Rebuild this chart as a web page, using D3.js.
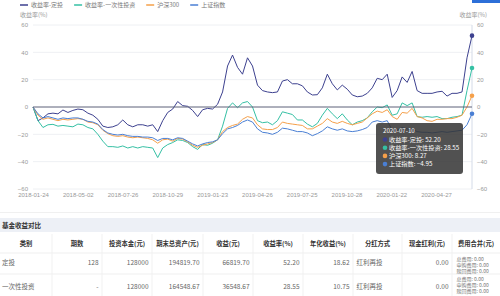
<!DOCTYPE html>
<html>
<head>
<meta charset="utf-8">
<script src="https://cdn.jsdelivr.net/npm/d3@7"></script>
<style>
  body { margin: 0; background: #fff; }
  svg { display: block; font-family: "Noto Sans CJK SC", "Noto Sans", sans-serif; }
</style>
</head>
<body>
<svg id="chart" width="500" height="296"></svg>
<script>
// x轴标签 (交易日序号)
const tickLabels = ["2018-01-24", "2018-05-02", "2018-07-26", "2018-10-29", "2019-01-23",
                    "2019-04-26", "2019-07-25", "2019-10-28", "2020-01-22", "2020-04-27"];
const tickDays = [0, 61, 122, 183, 244, 305, 366, 427, 488, 549];
const lastDay = 598;
const lastDate = "2020-07-10";

const seriesNames = ["收益率-定投", "收益率-一次性投资", "沪深300", "上证指数"];
const seriesColors = ["#3d418f", "#35c0a4", "#f5a04a", "#4a7fd4"];

// 收益率-定投
const dingtou = [0, -10, -8, -5, -4.5, -5, -2.2, -4, -2.5, -1.5, -2, -4.5, -6, -9, -14, -15, -14.5, -13, -9.5, -13,
  -14.5, -13, -13, -14, -13, -18, -10, -4, -1.5, 4, 1, 0.5, -2.5, -7, -2, -1, -1.5, 2, 11, 30,
  38, 29, 24, 36, 30, 16, 12, 11, 10.5, 11, 19, 20, 17, 17, 15.5, 11, 8.8, 9, 14, 24,
  17, 12.5, 16, 13, 8.8, 7.5, 8, 10, 14, 21, 20, 24, 7, 12, 22, 18, 26, 12, 10, 10,
  10, 11, 11.5, 8, 10, 10, 11, 36, 52.20];

// 收益率-一次性投资
const yicixing = [0, -10, -15, -13, -12.7, -14, -13.5, -14, -14.5, -12.5, -13, -15, -16, -20, -25, -29, -29, -29.5, -28.5, -30,
  -29, -30, -29, -29.5, -30, -37, -30, -27.5, -26, -24, -24.5, -26, -29, -31, -27.5, -28, -26.5, -24, -14, -1,
  3, -0.5, 3, 4, 0, -10, -11.5, -11, -13, -10, -3.5, -4.5, -5.5, -9.5, -9.5, -12.5, -14.5, -12, -6, -1,
  -5, -8.5, -5, -9.5, -13, -11, -10, -8, -3.5, 0, -0.5, 1.5, -6, -5, 3, 1, 3, -7, -7.5, -7,
  -7.5, -7, -8.5, -8.5, -7.5, -7, -6, 12, 28.55];

// 沪深300
const hs300 = [0, -6, -9, -8, -9, -10, -9, -9.5, -9, -8.5, -9, -11, -11.5, -13, -17, -19.5, -21, -21.5, -21, -22,
  -22.5, -22, -22.5, -23, -24, -26.5, -24, -23.5, -25, -23, -23.5, -25.5, -28, -29.5, -28, -27, -26, -24, -18, -15,
  -13.5, -12.5, -9, -7, -8, -13, -16, -16.5, -16.5, -15, -11, -12, -12.5, -13, -13.5, -16, -16, -14, -12, -8.5,
  -11, -12, -10.5, -12, -13, -12, -11, -8, -5, -3, -4, -2, -7, -9, -4, -4.5, -1, -7, -8, -10,
  -10.5, -9, -9, -8.5, -8.5, -7.5, -6, 0, 8.27];

// 上证指数
const shangzheng = [0, -5, -8, -7, -8, -9, -8, -8.5, -8, -8, -9, -10.5, -11, -12.5, -16.5, -19, -20, -20.5, -20, -21,
  -21.5, -21.5, -22, -22, -22.5, -24.5, -23, -23, -24, -22.5, -23, -25, -27, -28.5, -27, -26, -25.5, -24, -19.5, -16,
  -15, -13.5, -11, -9.5, -11, -16, -18.5, -19, -20, -18.5, -15.5, -16, -17, -18, -18, -19, -21, -19.5, -17.5, -14.5,
  -16, -17, -16, -17.5, -18, -17.5, -16.5, -15, -11, -10, -11, -10, -17, -17, -15, -16, -16, -18, -18.5, -18.5,
  -19, -18.5, -18, -18.5, -18, -17.5, -17, -13, -4.95];

const allSeries = [dingtou, yicixing, hs300, shangzheng];
const yTicks = [-60, -40, -20, 0, 20, 40, 60];

// 表格
const tableTitle = "基金收益对比";
const tableHeaders = ["类别", "期数", "投资本金(元)", "期末总资产(元)", "收益(元)", "收益率(%)", "年化收益(%)", "分红方式", "现金红利(元)", "费用合并(元)"];
const rowDingtou = ["定投", "128", "128000", "194819.70", "66819.70", "52.20", "18.62", "红利再投", "0.00"];
const rowYicixing = ["一次性投资", "-", "128000", "164548.67", "36548.67", "28.55", "10.75", "红利再投", "0.00"];
const feeLines = ["总费用: 0.00", "申购费用: 0.00", "赎回费用: 0.00"];

const svg = d3.select("#chart");
const plotLeft = 33, plotRight = 472, plotTop = 25, plotBottom = 189;

const x = d3.scaleLinear().domain([0, dingtou.length - 1]).range([plotLeft, plotRight]);
const xDay = d3.scaleLinear().domain([0, lastDay]).range([plotLeft, plotRight]);
const y = d3.scaleLinear().domain([-60, 60]).range([plotBottom, plotTop]);

// blue button corner
svg.append("rect").attr("x", 472).attr("y", 0).attr("width", 28).attr("height", 3).attr("fill", "#2d6fd8");

// gridlines
svg.append("g")
  .selectAll("line")
  .data(yTicks.filter(d => d !== 0))
  .join("line")
  .attr("x1", plotLeft).attr("x2", plotRight)
  .attr("y1", d => y(d)).attr("y2", d => y(d))
  .attr("stroke", "#eef0f3").attr("stroke-width", 1);

// left axis
const axisL = svg.append("g").attr("transform", `translate(${plotLeft},0)`)
  .call(d3.axisLeft(y).tickValues(yTicks).tickSize(0).tickPadding(5));
axisL.select(".domain").remove();
axisL.selectAll("text").attr("fill", "#999").attr("font-size", 6).style("font-family", "inherit");

// right axis
const axisR = svg.append("g").attr("transform", `translate(${plotRight},0)`)
  .call(d3.axisRight(y).tickValues(yTicks).tickSize(0).tickPadding(5));
axisR.select(".domain").remove();
axisR.selectAll("text").attr("fill", "#999").attr("font-size", 6).style("font-family", "inherit");

// axis names
svg.append("text").attr("x", 20).attr("y", 17).attr("font-size", 6).attr("fill", "#999").text("收益率(%)");
svg.append("text").attr("x", 487).attr("y", 17).attr("text-anchor", "end").attr("font-size", 6).attr("fill", "#999").text("收益率(%)");

// bottom axis
const axisB = svg.append("g").attr("transform", `translate(0,${plotBottom})`)
  .call(d3.axisBottom(xDay).tickValues(tickDays).tickFormat((d, i) => tickLabels[i]).tickSize(0).tickPadding(4));
axisB.select(".domain").remove();
axisB.selectAll("text").attr("fill", "#999").attr("font-size", 6).style("font-family", "inherit");

// axis pointer line
svg.append("line")
  .attr("x1", xDay(lastDay)).attr("x2", xDay(lastDay))
  .attr("y1", plotTop).attr("y2", plotBottom)
  .attr("stroke", "#d4dbe8").attr("stroke-width", 1);

// series lines
const line = d3.line().x((d, i) => x(i)).y(d => y(d));
svg.append("g")
  .selectAll("path")
  .data(allSeries)
  .join("path")
  .attr("d", d => line(d))
  .attr("fill", "none")
  .attr("stroke", (d, i) => seriesColors[i])
  .attr("stroke-width", 1)
  .attr("stroke-linejoin", "round");

// zero line
svg.append("line")
  .attr("x1", plotLeft).attr("x2", plotRight)
  .attr("y1", y(0)).attr("y2", y(0))
  .attr("stroke", "#5d6079").attr("stroke-width", 1);

// end markers
svg.append("g")
  .selectAll("circle")
  .data(allSeries)
  .join("circle")
  .attr("cx", d => x(d.length - 1))
  .attr("cy", d => y(d[d.length - 1]))
  .attr("r", 2.3)
  .attr("fill", (d, i) => seriesColors[i]);

// legend
let lx = 20;
seriesNames.forEach((name, i) => {
  const g = svg.append("g");
  g.append("line").attr("x1", lx).attr("x2", lx + 8).attr("y1", 5).attr("y2", 5)
    .attr("stroke", seriesColors[i]).attr("stroke-width", 1.5);
  const t = g.append("text").attr("x", lx + 11).attr("y", 7.2).attr("font-size", 6).attr("fill", "#777").text(name);
  lx = lx + 11 + t.node().getComputedTextLength() + 11;
});

// tooltip
const tip = svg.append("g").attr("transform", "translate(376,123)");
tip.append("rect").attr("width", 87).attr("height", 51).attr("rx", 3)
  .attr("fill", "rgba(50,50,50,0.85)");
tip.append("text").attr("x", 7).attr("y", 10).attr("font-size", 6.2).attr("fill", "#fff").text(lastDate);
allSeries.forEach((s, i) => {
  const ty = 18.5 + i * 8.2;
  tip.append("circle").attr("cx", 9).attr("cy", ty - 2).attr("r", 2.3).attr("fill", seriesColors[i]);
  tip.append("text").attr("x", 13).attr("y", ty).attr("font-size", 6.2).attr("fill", "#fff")
    .text(seriesNames[i] + ": " + d3.format(".2f")(s[s.length - 1]));
});

// 表格部分
svg.append("line").attr("x1", 0).attr("x2", 500).attr("y1", 212.5).attr("y2", 212.5).attr("stroke", "#f0f0f0");
svg.append("rect").attr("x", 0).attr("y", 218).attr("width", 500).attr("height", 14).attr("fill", "#edf0f6");
svg.append("text").attr("x", 2).attr("y", 227.5).attr("font-size", 6.5).attr("font-weight", "bold")
  .attr("fill", "#333").text(tableTitle);

const colEdges = [0, 52, 102, 152, 203, 253, 303, 353, 402, 452, 500];
const align = ["start", "end", "end", "end", "end", "end", "end", "start", "end", "start"];
const colX = (i) => align[i] === "start" ? colEdges[i] + (i === 0 ? 2 : 3.5) : colEdges[i + 1] - 3.5;

// vertical separators
svg.append("g").selectAll("line")
  .data(colEdges.slice(1, -1))
  .join("line")
  .attr("x1", d => d).attr("x2", d => d)
  .attr("y1", 234).attr("y2", 296)
  .attr("stroke", "#f1f1f1");
[253, 274].forEach(yy => {
  svg.append("line").attr("x1", 0).attr("x2", 500).attr("y1", yy).attr("y2", yy).attr("stroke", "#efefef");
});

svg.append("g").selectAll("text")
  .data(tableHeaders)
  .join("text")
  .attr("x", (d, i) => (colEdges[i] + colEdges[i + 1]) / 2)
  .attr("y", 245.5)
  .attr("text-anchor", "middle")
  .attr("font-size", 6.3)
  .attr("font-weight", "bold")
  .attr("fill", "#333")
  .text(d => d);

[[rowDingtou, 264.5, 260.5], [rowYicixing, 288.5, 281]].forEach(([row, ty, fy]) => {
  svg.append("g").selectAll("text")
    .data(row)
    .join("text")
    .attr("x", (d, i) => colX(i))
    .attr("y", ty)
    .attr("text-anchor", (d, i) => align[i])
    .attr("font-size", 6.5)
    .attr("fill", "#666")
    .text(d => d);
  svg.append("g").selectAll("text")
    .data(feeLines)
    .join("text")
    .attr("x", colEdges[9] + 4.5)
    .attr("y", (d, i) => fy + i * 6.2)
    .attr("font-size", 5)
    .attr("fill", "#777")
    .text(d => d);
});
</script>
</body>
</html>
